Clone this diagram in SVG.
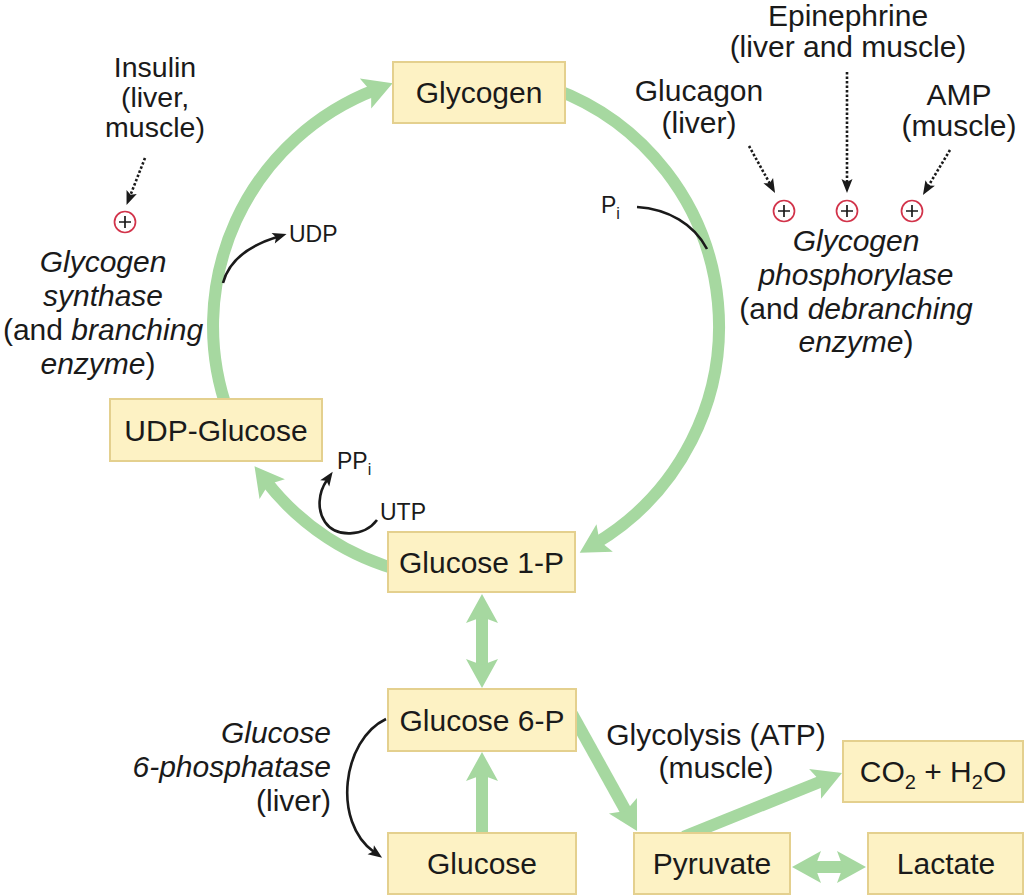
<svg xmlns="http://www.w3.org/2000/svg" width="1024" height="896" viewBox="0 0 1024 896">
<style>
text{font-family:"Liberation Sans",Arial,sans-serif;fill:#1a1a1a}
.lg{font-size:30px}
.md{font-size:28.5px}
.bx{font-size:30px;text-anchor:middle}
.c{text-anchor:middle}
.e{text-anchor:end}
.it{font-style:italic}
.sm{font-size:23px}
.box{fill:#FDF2C4;stroke:#E4D08E;stroke-width:2}
.g{fill:none;stroke:#A6D8A0;stroke-width:12}
.k{fill:none;stroke:#1a1a1a;stroke-width:2.6}
.dot{fill:none;stroke:#1a1a1a;stroke-width:2.6;stroke-dasharray:2.5 2}
.pc{fill:#fff;stroke:#D2334A;stroke-width:1.7}
.pl{stroke:#1a1a1a;stroke-width:1.7}
</style>
<defs>
<marker id="ga" markerUnits="userSpaceOnUse" markerWidth="40" markerHeight="40" refX="0" refY="0" orient="auto-start-reverse" overflow="visible">
<path d="M18,0 L-11,-16 L-5,0 L-11,16 Z" fill="#A6D8A0"/>
</marker>
<marker id="ka" markerUnits="userSpaceOnUse" markerWidth="20" markerHeight="20" refX="0" refY="0" orient="auto" overflow="visible">
<path d="M10,0 L-4,-5.5 L-1,0 L-4,5.5 Z" fill="#1a1a1a"/>
</marker>
</defs>

<g id="connectors">
<path class="g" d="M228.3,412.5 A253,253 0 0 1 375.8,89.6" marker-end="url(#ga)"/>
<path class="g" d="M552.5,88.3 A253,253 0 0 1 595.2,543.6" marker-end="url(#ga)"/>
<path class="g" d="M404.8,571.5 A253,253 0 0 1 265.5,480.4" marker-end="url(#ga)"/>
<path class="g" d="M482,612 L482,670" marker-start="url(#ga)" marker-end="url(#ga)"/>
<path class="g" d="M482,840 L482,770" marker-end="url(#ga)"/>
<path class="g" d="M572,714 L628.3,815.3" marker-end="url(#ga)"/>
<path class="g" d="M683.7,836.7 L825.3,779.7" marker-end="url(#ga)"/>
<path class="g" d="M810,867 L848,867" marker-start="url(#ga)" marker-end="url(#ga)"/>

<path class="k" d="M223,283 C229,260 248,246 277,237" marker-end="url(#ka)"/>
<path class="k" d="M637,207 C668,209 694,224 707,249"/>
<path class="k" d="M377,520 C364,537 336,538 325,522 C317,510 318,493 327,480" marker-end="url(#ka)"/>
<path class="k" d="M386,719 C342,740 332,822 374,852" marker-end="url(#ka)"/>

<path class="dot" d="M145,158 L130.2,195.7" marker-end="url(#ka)"/>
<path class="dot" d="M749,146 L770.2,184.2" marker-end="url(#ka)"/>
<path class="dot" d="M847,72 L847,183" marker-end="url(#ka)"/>
<path class="dot" d="M950,150 L928.1,186.4" marker-end="url(#ka)"/>
</g>

<g id="glycogen"><rect class="box" x="393" y="62" width="172" height="61"/><text class="bx" x="479" y="103">Glycogen</text></g>
<g id="udp-glucose"><rect class="box" x="110" y="399" width="212" height="62"/><text class="bx" x="216" y="441">UDP-Glucose</text></g>
<g id="glucose-1p"><rect class="box" x="388" y="532" width="187" height="60"/><text class="bx" x="481.5" y="573">Glucose 1-P</text></g>
<g id="glucose-6p"><rect class="box" x="388" y="689" width="188" height="62"/><text class="bx" x="482" y="731">Glucose 6-P</text></g>
<g id="glucose"><rect class="box" x="388" y="833" width="188" height="61"/><text class="bx" x="482" y="874">Glucose</text></g>
<g id="pyruvate"><rect class="box" x="634" y="833" width="156" height="61"/><text class="bx" x="712" y="874">Pyruvate</text></g>
<g id="lactate"><rect class="box" x="868" y="833" width="155" height="61"/><text class="bx" x="946" y="874">Lactate</text></g>
<g id="co2-h2o"><rect class="box" x="843" y="741" width="180" height="61"/><text class="bx" x="933" y="782">CO<tspan font-size="20" dy="7">2</tspan><tspan dy="-7"> + H</tspan><tspan font-size="20" dy="7">2</tspan><tspan dy="-7">O</tspan></text></g>

<g id="insulin">
<text class="md c" x="155" y="77">Insulin</text>
<text class="md c" x="155" y="107">(liver,</text>
<text class="md c" x="155" y="137">muscle)</text>
</g>
<g id="glucagon">
<text class="lg c" x="699" y="101">Glucagon</text>
<text class="lg c" x="699" y="133">(liver)</text>
</g>
<g id="epinephrine">
<text class="lg c" x="848" y="26">Epinephrine</text>
<text class="lg c" x="848" y="57">(liver and muscle)</text>
</g>
<g id="amp">
<text class="lg c" x="959" y="105">AMP</text>
<text class="lg c" x="959" y="136">(muscle)</text>
</g>

<g id="plus-insulin"><circle class="pc" cx="125" cy="222" r="10.5"/><path class="pl" d="M119,222 H131 M125,216 V228"/></g>
<g id="plus-glucagon"><circle class="pc" cx="784" cy="211" r="10.5"/><path class="pl" d="M778,211 H790 M784,205 V217"/></g>
<g id="plus-epinephrine"><circle class="pc" cx="847" cy="211" r="10.5"/><path class="pl" d="M841,211 H853 M847,205 V217"/></g>
<g id="plus-amp"><circle class="pc" cx="912" cy="211" r="10.5"/><path class="pl" d="M906,211 H918 M912,205 V217"/></g>

<g id="glycogen-synthase">
<text class="lg c it" x="103" y="272">Glycogen</text>
<text class="lg c it" x="103" y="306">synthase</text>
<text class="lg c" x="103" y="340">(and <tspan class="it">branching</tspan></text>
<text class="lg c" x="98" y="374"><tspan class="it">enzyme</tspan>)</text>
</g>
<g id="glycogen-phosphorylase">
<text class="lg c it" x="856" y="251">Glycogen</text>
<text class="lg c it" x="856" y="285">phosphorylase</text>
<text class="lg c" x="856" y="319">(and <tspan class="it">debranching</tspan></text>
<text class="lg c" x="856" y="352"><tspan class="it">enzyme</tspan>)</text>
</g>
<g id="glucose-6-phosphatase">
<text class="lg e it" x="331" y="743">Glucose</text>
<text class="lg e it" x="331" y="777">6-phosphatase</text>
<text class="lg e" x="331" y="811">(liver)</text>
</g>
<g id="glycolysis">
<text class="lg c" x="716" y="745">Glycolysis (ATP)</text>
<text class="lg c" x="716" y="778">(muscle)</text>
</g>

<g id="small-labels">
<text class="sm" x="289" y="242">UDP</text>
<text class="sm" x="601" y="213">P<tspan font-size="16" dy="6">i</tspan></text>
<text class="sm" x="337" y="469">PP<tspan font-size="16" dy="6">i</tspan></text>
<text class="sm" x="380" y="520">UTP</text>
</g>
</svg>
